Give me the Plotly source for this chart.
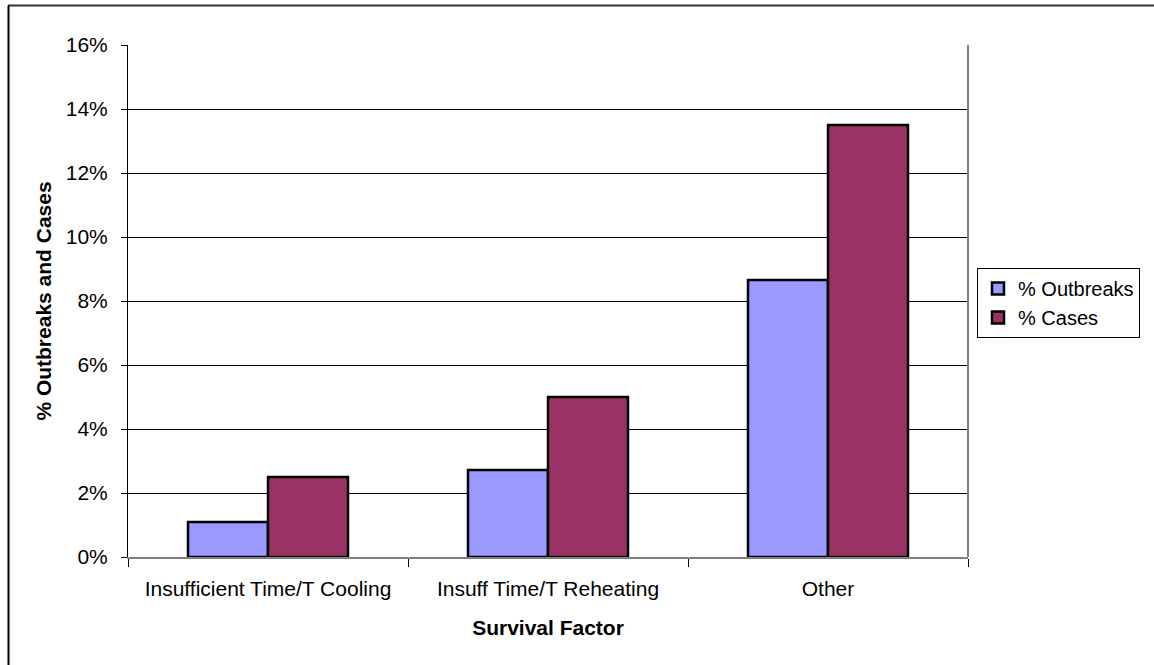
import plotly.graph_objects as go

categories = ["Insufficient Time/T Cooling", "Insuff Time/T Reheating", "Other"]
outbreaks = [0.0109, 0.0272, 0.0866]
cases = [0.025, 0.050, 0.135]
series_names = ["% Outbreaks", "% Cases"]
colors = ["#9999FF", "#993366"]

W, H = 1154, 665
L, R, T, B = 128, 968, 45, 557
pw, ph = R - L, B - T

def px_x(p):
    return (p - L) / pw

def px_y(p):
    return (B - p) / ph

fig = go.Figure()
for name, vals, col in zip(series_names, [outbreaks, cases], colors):
    fig.add_trace(go.Bar(
        x=categories, y=vals, name=name,
        marker=dict(color=col, line=dict(color="black", width=2.5)),
    ))

font = "Liberation Sans, Arial, sans-serif"
FS = 21
fig.update_layout(
    width=W, height=H,
    margin=dict(l=L, r=W - R, t=T, b=H - B, pad=0, autoexpand=False),
    paper_bgcolor="white", plot_bgcolor="white",
    barmode="group", bargap=0.4286, bargroupgap=0,
    font=dict(family=font, size=FS, color="black"),
    showlegend=True,
    legend=dict(
        x=px_x(977), y=px_y(268), xanchor="left", yanchor="top",
        bordercolor="black", borderwidth=1, bgcolor="white",
        font=dict(size=20), itemwidth=30, tracegroupgap=0,
    ),
    xaxis=dict(
        type="category", tickson="boundaries", ticks="outside", ticklen=8,
        tickcolor="black", showline=True, linecolor="#808080", linewidth=1.5,
        showgrid=False, tickfont=dict(size=FS), ticklabelstandoff=12,
        title=dict(text="<b>Survival Factor</b>", font=dict(size=FS), standoff=21),
    ),
    yaxis=dict(
        range=[0, 0.16], dtick=0.02, tickformat=".0%", ticks="outside",
        ticklen=6, tickcolor="black", showline=True, linecolor="black",
        linewidth=1, showgrid=True, gridcolor="black", gridwidth=1,
        zeroline=False, tickfont=dict(size=FS), ticklabelstandoff=9,
        title=dict(text="<b>% Outbreaks and Cases</b>", font=dict(size=FS), standoff=8),
    ),
    shapes=[
        dict(type="line", xref="paper", yref="paper", x0=1, x1=1, y0=0, y1=1,
             line=dict(color="#808080", width=2)),
        dict(type="line", xref="paper", yref="paper", x0=px_x(8), x1=px_x(1160),
             y0=px_y(5.5), y1=px_y(5.5), line=dict(color="#333333", width=2)),
        dict(type="line", xref="paper", yref="paper", x0=px_x(8.5), x1=px_x(8.5),
             y0=px_y(5.5), y1=px_y(670), line=dict(color="black", width=2)),
    ],
)

fig.write_html("out.html", config={"displayModeBar": False},
               post_script="document.body.style.margin='0';")
